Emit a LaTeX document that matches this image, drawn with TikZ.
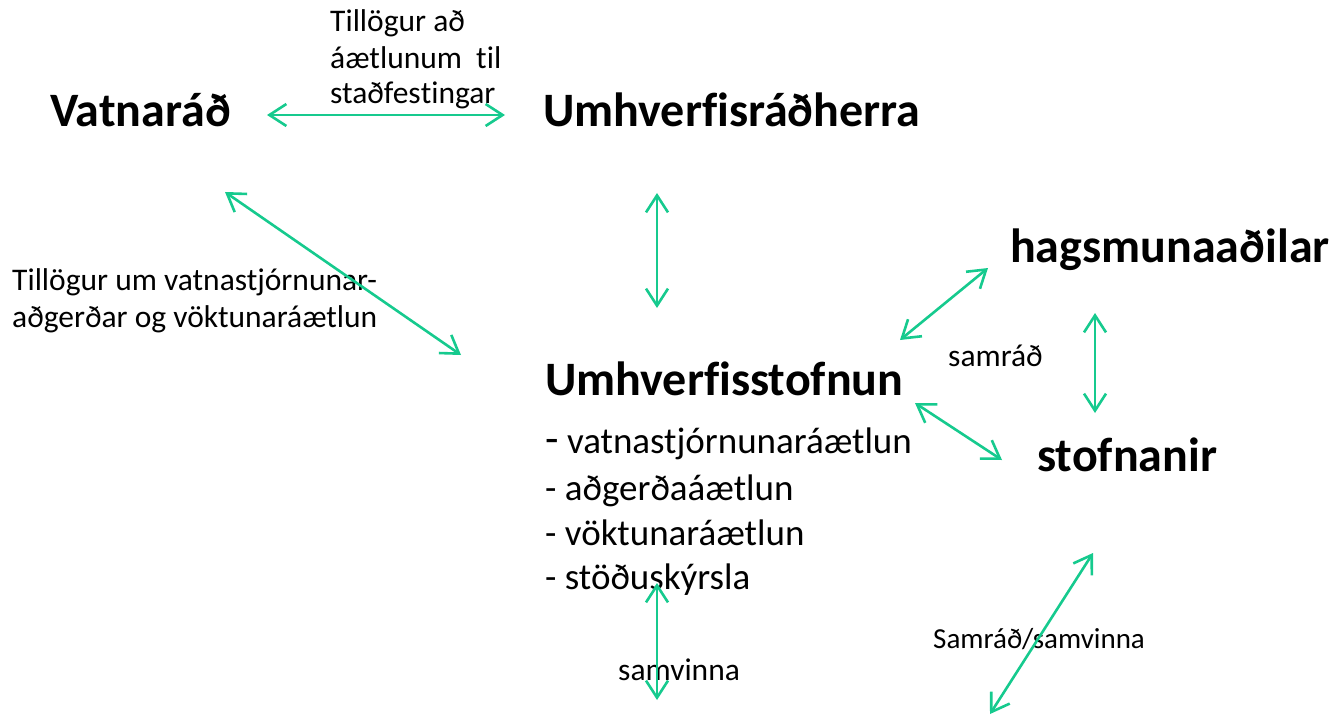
\documentclass[tikz,border=0pt]{standalone}
\usepackage{fontspec}
\setmainfont{Carlito}[Ligatures=NoCommon,RawFeature={-liga;-clig;-dlig;-calt}]
\usetikzlibrary{arrows.meta}
\definecolor{arrgreen}{RGB}{22,202,142}
\tikzset{
  head/.style={anchor=base west,inner sep=0pt,font=\fontsize{48}{52}\selectfont\bfseries},
  lbl/.style={anchor=base west,inner sep=0pt,font=\fontsize{31.5}{36}\selectfont},
  item/.style={anchor=base west,inner sep=0pt,font=\fontsize{37}{42}\selectfont},
  dbl/.style={arrgreen,line width=2.6pt,{Straight Barb[length=17pt,width=22pt]}-{Straight Barb[length=17pt,width=22pt]}},
}
\begin{document}
\begin{tikzpicture}[x=1pt,y=-1pt]
\useasboundingbox (0,0) rectangle (1332,719);
% headings
\node[head] (vat) at (50,127) {Vatnaráð};
\node[head] (umr) at (543,127) {Umhverfisráðherra};
\node[head] (hag) at (1010,262) {hagsmunaaðilar};
\node[head] (ust) at (545,395) {Umhverfisstofnun};
\node[head] (sto) at (1037,471) {stofnanir};
% list
\node[item] (i1) at (545,453) {{\fontsize{44}{44}\selectfont -} vatnastjórnunaráætlun};
\node[item] (i2) at (545,500) {- aðgerðaáætlun};
\node[item] (i3) at (545,545) {- vöktunaráætlun};
\node[item] (i4) at (545,589) {- stöðuskýrsla};
% labels
\node[lbl] (t1) at (330,32) {Tillögur að};
\node[lbl] (t2) at (330,69) {áætlunum\ \ til};
\node[lbl] (t3) at (330,104) {staðfes\kern0pt tingar};
\node[lbl] (u1) at (12,290) {Tillögur um vatnastjórnunar-};
\node[lbl] (u2) at (12,327) {aðgerðar og vöktunaráætlun};
\node[lbl] (sr) at (948,366) {samráð};
\node[lbl,font=\fontsize{29}{34}\selectfont] (ss) at (933,648) {Samráð/samvinna};
\node[lbl] (sv) at (618,680) {samvinna};
% arrow ends
\coordinate (a1) at (267,115); \coordinate (b1) at (505,115);
\coordinate (a2) at (225,192); \coordinate (b2) at (461,355);
\coordinate (a3) at (657,193); \coordinate (b3) at (657,308);
\coordinate (a4) at (900,340); \coordinate (b4) at (988,268);
\coordinate (a5) at (1095,313); \coordinate (b5) at (1095,413);
\coordinate (a6) at (915,403); \coordinate (b6) at (1002,460);
\coordinate (a7) at (1093,553); \coordinate (b7) at (990,714);
\coordinate (a8) at (657,583); \coordinate (b8) at (657,700);
\draw[dbl] (a1) -- (b1);
\draw[dbl] (a2) -- (b2);
\draw[dbl] (a3) -- (b3);
\draw[dbl] (a4) -- (b4);
\draw[dbl] (a5) -- (b5);
\draw[dbl] (a6) -- (b6);
\draw[dbl] (a7) -- (b7);
\draw[dbl] (a8) -- (b8);
\end{tikzpicture}
\end{document}
